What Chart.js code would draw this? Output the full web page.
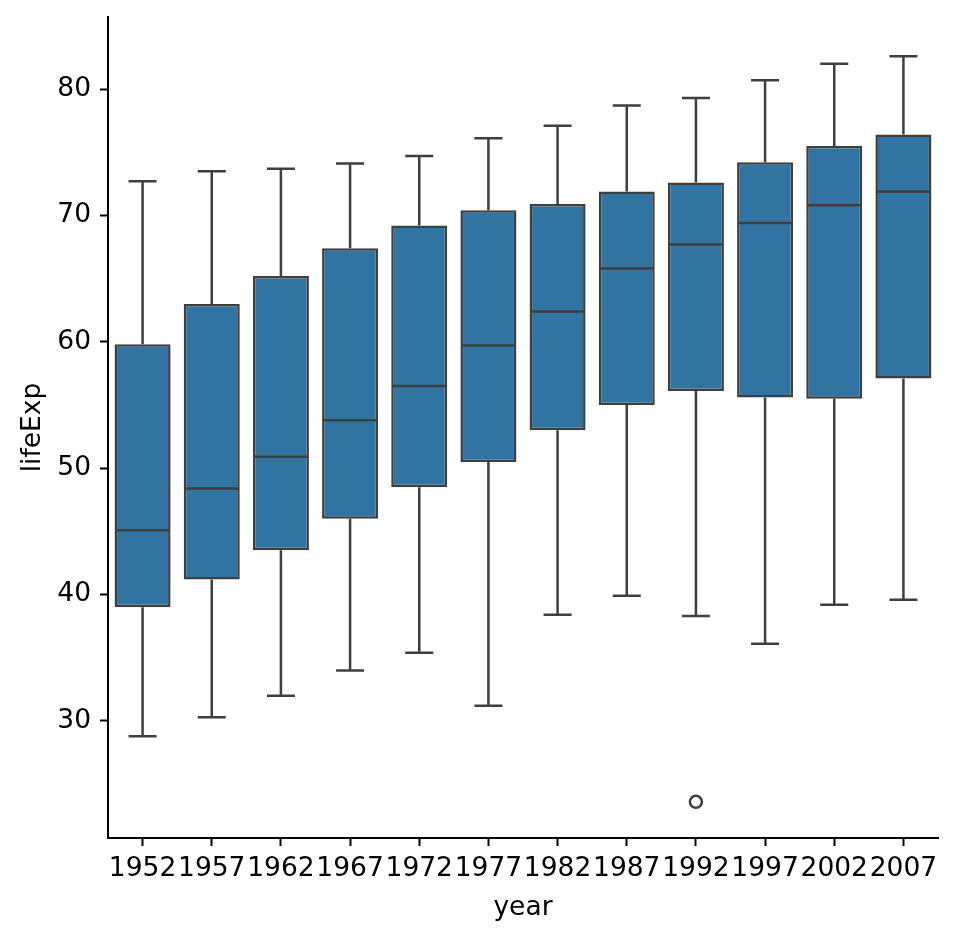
<!DOCTYPE html>
<html>
<head>
<meta charset="utf-8">
<title>lifeExp by year</title>
<script src="https://cdn.jsdelivr.net/npm/chart.js@4/dist/chart.umd.min.js"></script>
<style>
  body { margin: 0; background: #fff; }
  #wrap { width: 974px; height: 940px; position: relative; }
</style>
</head>
<body>
<div id="wrap"><canvas id="myChart"></canvas></div>
<script>
'use strict';

// categories
let years = ['1952', '1957', '1962', '1967', '1972', '1977', '1982', '1987', '1992', '1997', '2002', '2007'];

// box stats
let whiskerLow = [28.8, 30.3, 32.0, 34.0, 35.4, 31.2, 38.4, 39.9, 38.3, 36.1, 39.2, 39.6];
let q1 = [39.0, 41.2, 43.5, 46.0, 48.5, 50.5, 53.0, 55.0, 56.1, 55.6, 55.5, 57.1];
let medians = [45.1, 48.4, 50.9, 53.8, 56.5, 59.7, 62.4, 65.8, 67.7, 69.4, 70.8, 71.9];
let q3 = [59.8, 63.0, 65.2, 67.4, 69.2, 70.4, 70.9, 71.9, 72.6, 74.2, 75.5, 76.4];
let whiskerHigh = [72.7, 73.5, 73.7, 74.1, 74.7, 76.1, 77.1, 78.7, 79.3, 80.7, 82.0, 82.6];

// outliers (null = none)
let outliers = [null, null, null, null, null, null, null, null, 23.6, null, null, null];

// y tick labels
let yTicks = [30, 40, 50, 60, 70, 80];

let lineColor = '#3f3f3f';
let boxColor = '#3274a1';
let fontFamily = '"DejaVu Sans", sans-serif';
let fontSize = 26.5;

let boxes = [];
for (let i = 0; i < years.length; i++) {
  boxes.push([q1[i], q3[i]]);
}

// whiskers, caps and medians drawn with the chart's own scales
const boxPlugin = {
  id: 'boxPlugin',
  afterDatasetsDraw(chart) {
    let ctx = chart.ctx;
    let x = chart.scales.x;
    let y = chart.scales.y;
    let meta = chart.getDatasetMeta(0);
    ctx.save();
    ctx.strokeStyle = lineColor;
    ctx.lineWidth = 2.5;
    for (let i = 0; i < years.length; i++) {
      let cx = x.getPixelForValue(i);
      let half = meta.data[i].width / 2;
      let cap = half / 2;
      let lo = y.getPixelForValue(whiskerLow[i]);
      let hi = y.getPixelForValue(whiskerHigh[i]);
      let b1 = y.getPixelForValue(q1[i]);
      let b3 = y.getPixelForValue(q3[i]);
      let md = y.getPixelForValue(medians[i]);
      ctx.beginPath();
      ctx.moveTo(cx, b1); ctx.lineTo(cx, lo);
      ctx.moveTo(cx - cap, lo); ctx.lineTo(cx + cap, lo);
      ctx.moveTo(cx, b3); ctx.lineTo(cx, hi);
      ctx.moveTo(cx - cap, hi); ctx.lineTo(cx + cap, hi);
      ctx.moveTo(cx - half + 1, md); ctx.lineTo(cx + half - 1, md);
      ctx.stroke();
    }
    ctx.restore();
  }
};

const data = {
  labels: years,
  datasets: [{
    type: 'bar',
    label: 'lifeExp',
    data: boxes,
    backgroundColor: boxColor,
    borderColor: lineColor,
    borderWidth: 2.5,
    borderSkipped: false,
    barPercentage: 0.81,
    categoryPercentage: 1,
    order: 2
  },
  {
    type: 'line',
    label: 'outliers',
    data: outliers,
    showLine: false,
    pointRadius: 6,
    pointBorderWidth: 2.5,
    pointBorderColor: lineColor,
    pointBackgroundColor: 'rgba(0,0,0,0)',
    order: 1
  }]
};

const config = {
  type: 'bar',
  data: data,
  plugins: [boxPlugin],
  options: {
    responsive: true,
    maintainAspectRatio: false,
    animation: false,
    events: [],
    layout: { padding: { top: 17, right: 36, bottom: 0, left: 0 } },
    plugins: {
      legend: { display: false },
      tooltip: { enabled: false }
    },
    scales: {
      x: {
        offset: true,
        grid: {
          offset: false,
          drawOnChartArea: false,
          drawTicks: true,
          tickLength: 8,
          tickWidth: 2,
          tickColor: '#000'
        },
        border: { display: true, color: '#000', width: 2 },
        ticks: {
          color: '#000',
          padding: 7,
          maxRotation: 0,
          autoSkip: false,
          font: { family: fontFamily, size: fontSize }
        },
        title: {
          display: true,
          text: 'year',
          color: '#000',
          padding: { top: 0, bottom: 16 },
          font: { family: fontFamily, size: fontSize, lineHeight: 1.2 }
        },
        afterFit: function (scale) {
          scale.height = 102;
          scale.paddingLeft = 0;
          scale.paddingRight = 0;
        }
      },
      y: {
        min: 20.74,
        max: 85.7,
        grid: {
          drawOnChartArea: false,
          drawTicks: true,
          tickLength: 8,
          tickWidth: 2,
          tickColor: '#000'
        },
        border: { display: true, color: '#000', width: 2 },
        ticks: {
          color: '#000',
          padding: 9,
          includeBounds: false,
          font: { family: fontFamily, size: fontSize }
        },
        afterBuildTicks: function (scale) {
          scale.ticks = yTicks.map(v => ({ value: v }));
        },
        title: {
          display: true,
          text: 'lifeExp',
          color: '#000',
          padding: { top: 17, bottom: 0 },
          font: { family: fontFamily, size: fontSize, lineHeight: 1.2 }
        },
        afterFit: function (scale) {
          scale.width = 108;
          scale.paddingTop = 0;
          scale.paddingBottom = 0;
        }
      }
    }
  }
};

const myChart = new Chart(
  document.getElementById('myChart'),
  config
);
</script>
</body>
</html>
